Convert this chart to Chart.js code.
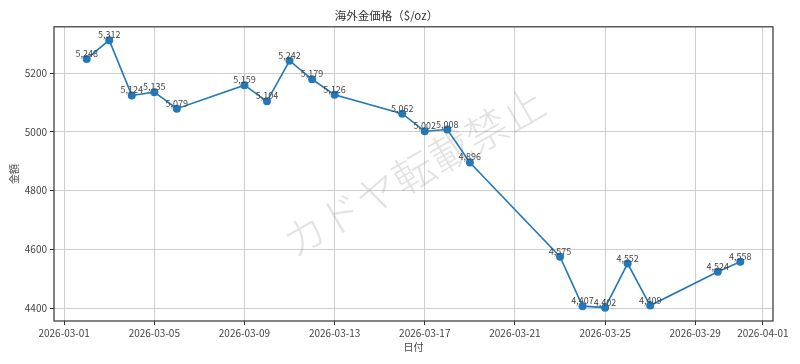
<!DOCTYPE html>
<html>
<head>
<meta charset="utf-8">
<script src="https://cdn.jsdelivr.net/npm/chart.js@4/dist/chart.umd.min.js"></script>
<style>
html,body{margin:0;padding:0;background:#fff;}
#wrap{width:800px;height:364px;}
</style>
</head>
<body>
<div id="wrap"><canvas id="c" width="800" height="364"></canvas></div>
<script>
const titleText = '海外金価格（$/oz）';
const xTitle = '日付';
const yTitle = '金額';
const watermarkText = 'カドヤ転載禁止';
const dates = ['2026-03-02','2026-03-03','2026-03-04','2026-03-05','2026-03-06',
  '2026-03-09','2026-03-10','2026-03-11','2026-03-12','2026-03-13',
  '2026-03-16','2026-03-17','2026-03-18','2026-03-19',
  '2026-03-23','2026-03-24','2026-03-25','2026-03-26','2026-03-27',
  '2026-03-30','2026-03-31'];
const prices = [5248,5312,5124,5135,5079,
  5159,5104,5242,5179,5126,
  5062,5002,5008,4896,
  4575,4407,4402,4552,4409,
  4524,4558];
const xTickDates = ['2026-03-01','2026-03-05','2026-03-09','2026-03-13','2026-03-17','2026-03-21','2026-03-25','2026-03-29','2026-04-01'];
const yTicks = [4400,4600,4800,5000,5200];

const baseDate = Date.parse(xTickDates[0] + 'T00:00:00Z');
const DAY = 86400000;
const toDay = d => (Date.parse(d + 'T00:00:00Z') - baseDate) / DAY;
const fromDay = v => new Date(baseDate + Math.round(v) * DAY).toISOString().slice(0,10);

const xs = dates.map(toDay);
const xMinD = Math.min(...xs), xMaxD = Math.max(...xs);
const xPad = (xMaxD - xMinD) * 0.05;
const yMinD = Math.min(...prices), yMaxD = Math.max(...prices);
const yPad = (yMaxD - yMinD) * 0.05;

const FONT = '"Noto Sans CJK JP", "Noto Sans", sans-serif';
const LINE = '#2379b8';

const overlay = {
  id: 'overlay',
  beforeDatasetsDraw(chart) {
    const {ctx, chartArea: a} = chart;
    ctx.save();
    ctx.translate((a.left + a.right) / 2, (a.top + a.bottom) / 2 - 2);
    ctx.rotate(-30 * Math.PI / 180);
    ctx.font = '300 42px ' + FONT;
    ctx.fillStyle = 'rgba(150,150,150,0.28)';
    ctx.textAlign = 'center';
    ctx.textBaseline = 'middle';
    ctx.fillText(watermarkText, 0, 0);
    ctx.restore();
  },
  afterDatasetsDraw(chart) {
    const {ctx, chartArea: a} = chart;
    const meta = chart.getDatasetMeta(0);
    ctx.save();
    ctx.font = '9px ' + FONT;
    ctx.fillStyle = '#444';
    ctx.textAlign = 'center';
    ctx.textBaseline = 'alphabetic';
    meta.data.forEach((pt, i) => {
      ctx.fillText(prices[i].toLocaleString('en-US'), pt.x, pt.y - 2);
    });
    ctx.strokeStyle = '#333';
    ctx.lineWidth = 1.2;
    ctx.strokeRect(a.left, a.top, a.right - a.left, a.bottom - a.top);
    ctx.restore();
  }
};

new Chart(document.getElementById('c'), {
  type: 'line',
  data: {
    datasets: [{
      data: xs.map((x, i) => ({x, y: prices[i]})),
      borderColor: LINE,
      backgroundColor: LINE,
      borderWidth: 1.6,
      pointRadius: 4,
      pointHoverRadius: 4,
      pointBorderWidth: 0,
      tension: 0
    }]
  },
  options: {
    responsive: false,
    animation: false,
    devicePixelRatio: 1,
    layout: {padding: {left: 0, right: 27, top: 0, bottom: 0}},
    plugins: {
      legend: {display: false},
      tooltip: {enabled: false},
      title: {
        display: true,
        text: titleText,
        color: '#333',
        font: {family: FONT, size: 11.5, weight: 'normal'},
        padding: {top: 9, bottom: 4}
      }
    },
    scales: {
      x: {
        type: 'linear',
        min: xMinD - xPad,
        max: xMaxD + xPad,
        afterFit(s) { s.height = 43; },
        afterBuildTicks(s) { s.ticks = xTickDates.map(d => ({value: toDay(d)})); },
        ticks: {
          callback: v => fromDay(v),
          color: '#444',
          font: {family: FONT, size: 10},
          maxRotation: 0,
          autoSkip: false,
          padding: 2
        },
        grid: {color: '#cfcfcf', lineWidth: 1, tickLength: 4, tickColor: '#333'},
        border: {display: false},
        title: {display: true, text: xTitle, color: '#444', font: {family: FONT, size: 10}, padding: {top: 0, bottom: 11}}
      },
      y: {
        type: 'linear',
        min: yMinD - yPad,
        max: yMaxD + yPad,
        afterFit(s) { s.width = 54; },
        afterBuildTicks(s) { s.ticks = yTicks.map(v => ({value: v})); },
        ticks: {
          callback: v => String(v),
          color: '#444',
          font: {family: FONT, size: 10},
          padding: 3
        },
        grid: {color: '#cfcfcf', lineWidth: 1, tickLength: 4, tickColor: '#333'},
        border: {display: false},
        title: {display: true, text: yTitle, color: '#444', font: {family: FONT, size: 10}, padding: {top: 8, bottom: 0}}
      }
    }
  },
  plugins: [overlay]
});
</script>
</body>
</html>
